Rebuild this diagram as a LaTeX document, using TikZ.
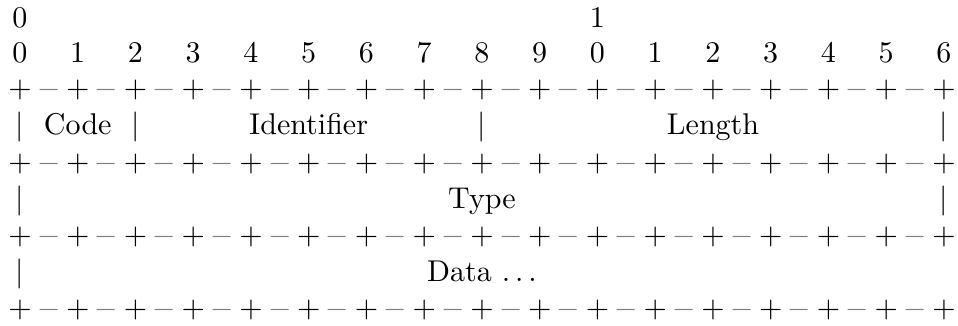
\documentclass[tikz,border=0pt]{standalone}
\begin{document}
\begin{tikzpicture}[x=0.333pt,y=-0.333pt,
  every node/.style={inner sep=0pt,outer sep=0pt,anchor=base},
  plus/.style={text=black},
  minus/.style={text=black!50},
  bar/.style={text=black},
  lbl/.style={text=black}]
\useasboundingbox (0,0) rectangle (958,325);
% top digit rows
\node[lbl] (t0) at (20,27.5) {0};
\node[lbl] (t1) at ({20+57.75*10},27.5) {1};
\foreach \i in {0,...,16} {
  \pgfmathtruncatemacro\d{mod(\i,10)}
  \node[lbl] (d\i) at ({20+57.75*\i},62.5) {\d};
}
% separator rows
\foreach \r/\yb in {2/97.5,4/171,6/244.5,8/317.5} {
  \foreach \i in {0,...,16} {
    \node[plus] (p\r-\i) at ({20+57.75*\i},\yb) {$+$};
  }
  \foreach \i in {0,...,15} {
    \node[minus] (m\r-\i) at ({20+57.75*(\i+0.5)},\yb) {$-$};
  }
}
% field row 1
\foreach \i in {0,2,8,16} {
  \node[bar] (b3-\i) at ({20+57.75*\i},134.5) {$|$};
}
\node[lbl] (code) at ({20+57.75*1},134.5) {Code};
\node[lbl] (ident) at ({20+57.75*5},134.5) {Identifier};
\node[lbl] (len) at ({20+57.75*12},134.5) {Length};
% field row 2
\foreach \i in {0,16} {
  \node[bar] (b5-\i) at ({20+57.75*\i},208) {$|$};
}
\node[lbl] (type) at ({20+57.75*8},208) {Type};
% field row 3
\node[bar] (b7-0) at (20,281) {$|$};
\node[lbl] (data) at ({20+57.75*8},281) {Data $\ldots$};
\end{tikzpicture}
\end{document}
